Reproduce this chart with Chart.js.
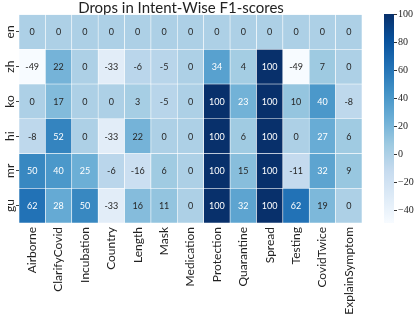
<!DOCTYPE html>
<html>
<head>
<meta charset="utf-8">
<script src="https://cdn.jsdelivr.net/npm/chart.js@4.4.1/dist/chart.umd.min.js"></script>
<style>
  html, body { margin: 0; padding: 0; background: #fff; }
  #wrap { position: relative; width: 419px; height: 321px; }
  #heat { position: absolute; left: 0; top: 0; }
  #cbar { position: absolute; left: 375px; top: 0; }
</style>
</head>
<body>
<div id="wrap">
  <canvas id="heat" width="375" height="321"></canvas>
  <canvas id="cbar" width="44" height="321"></canvas>
</div>
<script>
/* ── DATA ─────────────────────────────────────────────── */
const languages = ['en', 'zh', 'ko', 'hi', 'mr', 'gu'];
const intents = ['Airborne', 'ClarifyCovid', 'Incubation', 'Country', 'Length', 'Mask',
  'Medication', 'Protection', 'Quarantine', 'Spread', 'Testing', 'CovidTwice', 'ExplainSymptom'];

const en = [0, 0, 0, 0, 0, 0, 0, 0, 0, 0, 0, 0, 0];
const zh = [-49, 22, 0, -33, -6, -5, 0, 34, 4, 100, -49, 7, 0];
const ko = [0, 17, 0, 0, 3, -5, 0, 100, 23, 100, 10, 40, -8];
const hi = [-8, 52, 0, -33, 22, 0, 0, 100, 6, 100, 0, 27, 6];
const mr = [50, 40, 25, -6, -16, 6, 0, 100, 15, 100, -11, 32, 9];
const gu = [62, 28, 50, -33, 16, 11, 0, 100, 32, 100, 62, 19, 0];
const drops = [en, zh, ko, hi, mr, gu];

const colorbarTicks = [-40, -20, 0, 20, 40, 60, 80, 100];
const vmin = -49, vmax = 100;

/* ── COLOURS (matplotlib Blues) ───────────────────────── */
const bluesStops = ['#f7fbff', '#deebf7', '#c6dbef', '#9ecae1', '#6baed6',
  '#4292c6', '#2171b5', '#08519c', '#08306b'];

function hexRgb(h) {
  return [parseInt(h.slice(1, 3), 16), parseInt(h.slice(3, 5), 16), parseInt(h.slice(5, 7), 16)];
}

function blues(t) {
  t = Math.max(0, Math.min(1, t));
  const p = t * (bluesStops.length - 1);
  const i = Math.min(Math.floor(p), bluesStops.length - 2);
  const f = p - i;
  const a = hexRgb(bluesStops[i]), b = hexRgb(bluesStops[i + 1]);
  return a.map((c, k) => Math.round(c + (b[k] - c) * f));
}

const norm = v => (v - vmin) / (vmax - vmin);
const rgbStr = c => `rgb(${c[0]},${c[1]},${c[2]})`;

// same rule seaborn uses for annotation colour
function textColour(c) {
  const lin = c.map(x => { x /= 255; return x <= 0.03928 ? x / 12.92 : Math.pow((x + 0.055) / 1.055, 2.4); });
  const lum = 0.2126 * lin[0] + 0.7152 * lin[1] + 0.0722 * lin[2];
  return lum > 0.408 ? '#262626' : '#ffffff';
}

/* ── PLUGINS ──────────────────────────────────────────── */
const cellLabels = {
  id: 'cellLabels',
  afterDatasetsDraw(chart) {
    const ctx = chart.ctx;
    ctx.save();
    ctx.font = '9px Lato';
    ctx.textAlign = 'center';
    ctx.textBaseline = 'middle';
    chart.data.datasets.forEach((ds, di) => {
      chart.getDatasetMeta(di).data.forEach((el, ci) => {
        const v = drops[di][ci];
        ctx.fillStyle = textColour(blues(norm(v)));
        ctx.fillText(String(v), el.x, (el.y + el.base) / 2 + 0.5);
      });
    });
    ctx.restore();
  }
};

const rowLabels = {
  id: 'rowLabels',
  afterDraw(chart) {
    const ctx = chart.ctx, ys = chart.scales.y;
    ctx.save();
    ctx.font = '12px Lato';
    ctx.fillStyle = '#222';
    ctx.textAlign = 'center';
    ctx.textBaseline = 'middle';
    ys.ticks.forEach((t, i) => {
      ctx.save();
      ctx.translate(chart.chartArea.left - 9, ys.getPixelForValue(t.value));
      ctx.rotate(-Math.PI / 2);
      ctx.fillText(languages[i], 0, 0);
      ctx.restore();
    });
    ctx.restore();
  }
};

/* ── HEATMAP ──────────────────────────────────────────── */
new Chart(document.getElementById('heat'), {
  type: 'bar',
  data: {
    labels: intents,
    datasets: languages.map((lang, i) => ({
      label: lang,
      data: intents.map(() => 1),
      backgroundColor: drops[i].map(v => rgbStr(blues(norm(v)))),
      borderColor: 'rgba(255,255,255,0.85)',
      borderWidth: 0.6,
      borderSkipped: false,
      categoryPercentage: 1,
      barPercentage: 1
    }))
  },
  options: {
    responsive: false,
    animation: false,
    layout: { padding: { left: 0, right: 13, top: 0, bottom: 0 } },
    plugins: {
      legend: { display: false },
      tooltip: { enabled: false },
      title: {
        display: true, text: 'Drops in Intent-Wise F1-scores',
        color: '#222', font: { family: 'Lato', size: 15, weight: 'normal', lineHeight: 0.9 },
        padding: { top: 1, bottom: 0 }
      }
    },
    scales: {
      x: {
        stacked: true,
        grid: { display: false, drawTicks: false },
        border: { display: false },
        ticks: {
          autoSkip: false, minRotation: 90, maxRotation: 90, padding: 4,
          color: '#222', font: { family: 'Lato', size: 12 }
        },
        afterFit: s => { s.height = 98; }
      },
      y: {
        stacked: true, min: 0, max: 6, reverse: true,
        afterBuildTicks: s => { s.ticks = languages.map((_, i) => ({ value: i + 0.5 })); },
        ticks: { display: false },
        grid: { drawOnChartArea: false, drawTicks: true, tickLength: 3, color: '#444' },
        border: { display: false },
        afterFit: s => { s.width = 19; }
      }
    }
  },
  plugins: [cellLabels, rowLabels]
});

/* ── COLORBAR ─────────────────────────────────────────── */
new Chart(document.getElementById('cbar'), {
  type: 'bar',
  data: {
    labels: ['scale'],
    datasets: [{
      data: [[vmin, vmax]],
      backgroundColor: c => {
        const area = c.chart.chartArea;
        if (!area) return null;
        const g = c.chart.ctx.createLinearGradient(0, area.bottom, 0, area.top);
        bluesStops.forEach((col, i) => g.addColorStop(i / (bluesStops.length - 1), col));
        return g;
      },
      borderWidth: 0,
      categoryPercentage: 1,
      barPercentage: 1
    }]
  },
  options: {
    responsive: false,
    animation: false,
    layout: { padding: { left: 9, right: 0, top: 14, bottom: 98 } },
    plugins: { legend: { display: false }, tooltip: { enabled: false } },
    scales: {
      x: { display: false },
      y: {
        position: 'right', min: vmin, max: vmax,
        afterBuildTicks: s => { s.ticks = colorbarTicks.map(v => ({ value: v })); },
        ticks: {
          padding: 1, color: '#222', font: { family: 'Liberation Serif', size: 10 },
          callback: v => (v < 0 ? '\u2212' + Math.abs(v) : String(v))
        },
        grid: { drawOnChartArea: false, tickLength: 3, color: '#333' },
        border: { display: false },
        afterFit: s => { s.width = 25; }
      }
    }
  }
});
</script>
</body>
</html>
